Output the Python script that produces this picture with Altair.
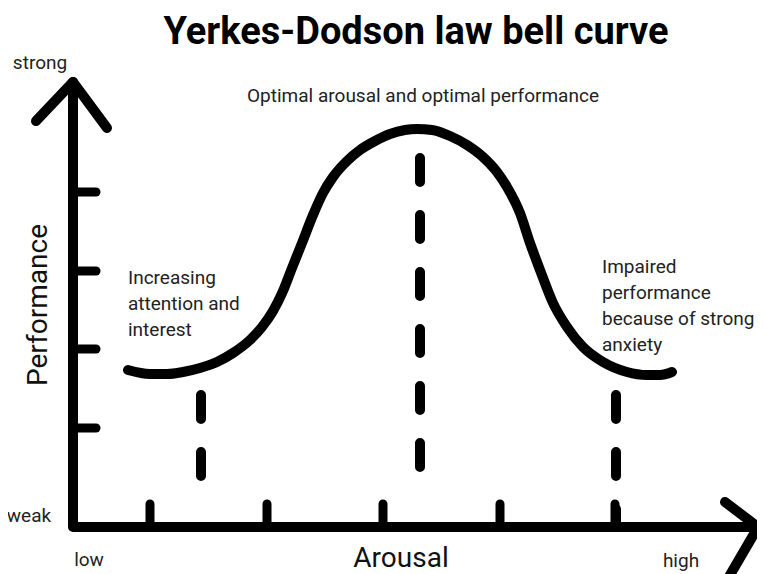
import altair as alt
import pandas as pd

# ---- data (arousal / performance units, origin at the axes corner) ----
curve_arousal = [55, 77, 94, 110, 127, 144, 160, 177, 189, 200, 210, 219, 229, 240, 250, 260,
                 274, 287, 302, 317, 332, 344, 359, 377, 394, 410, 424, 434, 447, 457, 467,
                 480, 494, 510, 530, 554, 574, 587, 599]
curve_performance = [157, 153, 153, 155, 159, 165, 174, 187, 200, 216, 236, 259, 284, 312, 334, 350,
                     366, 377, 386, 393, 397, 398, 397, 391, 382, 370, 355, 340, 314, 284, 257,
                     224, 200, 180, 165, 155, 152, 152, 155]

x_ticks = [77, 194, 310, 427, 542]
y_ticks = [99, 178, 256, 335]

dash_arousal = [128, 347, 543]
dash_top = [132, 369, 132]
dash_bottom = [51, 60, 0]

axis_arousal = [0, 0, 685]
axis_performance = [445, 0, 0]
y_arrow_arousal = [-37, 0, 34]
y_arrow_performance = [406, 445, 399]
x_arrow_arousal = [652, 685, 650]
x_arrow_performance = [25, 0, -60]

title_text = "Yerkes-Dodson law bell curve"
peak_text = "Optimal arousal and optimal performance"
left_lines = ["Increasing", "attention and", "interest"]
right_lines = ["Impaired", "performance", "because of strong", "anxiety"]

# ---- scales ----
XS = alt.Scale(domain=[-65, 684], nice=False, zero=False)
YS = alt.Scale(domain=[-47, 519], nice=False, zero=False)
FONT = "Roboto"


def X(f="a"):
    return alt.X(f"{f}:Q", scale=XS, axis=None)


def Y(f="p"):
    return alt.Y(f"{f}:Q", scale=YS, axis=None)


curve_df = pd.DataFrame({"a": curve_arousal, "p": curve_performance})
curve_df["o"] = range(len(curve_df))
curve = alt.Chart(curve_df).mark_line(
    color="black", strokeWidth=10, strokeCap="round", interpolate="monotone"
).encode(x=X(), y=Y(), order="o:Q")

dash_df = pd.DataFrame({"a": dash_arousal, "top": dash_top, "bottom": dash_bottom})
dashes = alt.Chart(dash_df).mark_rule(
    color="black", strokeWidth=10, strokeCap="round", strokeDash=[24, 33]
).encode(x=X(), y=Y("top"), y2="bottom:Q")

xt_df = pd.DataFrame({"a": x_ticks, "p0": [0] * len(x_ticks), "p1": [23] * len(x_ticks)})
xt = alt.Chart(xt_df).mark_rule(color="black", strokeWidth=9, strokeCap="round").encode(
    x=X(), y=Y("p0"), y2="p1:Q")

yt_df = pd.DataFrame({"p": y_ticks, "a0": [0] * len(y_ticks), "a1": [23] * len(y_ticks)})
yt = alt.Chart(yt_df).mark_rule(color="black", strokeWidth=9, strokeCap="round").encode(
    y=Y(), x=X("a0"), x2="a1:Q")

rows = []
for g, (xa, pa) in enumerate([(axis_arousal, axis_performance),
                              (y_arrow_arousal, y_arrow_performance),
                              (x_arrow_arousal, x_arrow_performance)]):
    for i, (aa, pp) in enumerate(zip(xa, pa)):
        rows.append({"a": aa, "p": pp, "g": g, "o": i})
axes_df = pd.DataFrame(rows)
axes = alt.Chart(axes_df).mark_line(
    color="black", strokeWidth=10, strokeCap="round", strokeJoin="round"
).encode(x=X(), y=Y(), detail="g:N", order="o:Q")

title = alt.Chart(pd.DataFrame({"a": [343], "p": [483], "t": [title_text]})).mark_text(
    font=FONT, fontSize=38, fontWeight="bold", align="center", baseline="alphabetic", color="black"
).encode(x=X(), y=Y(), text="t:N")

small_df = pd.DataFrame({
    "a": [350, -33, -44, 16, 608],
    "p": [425, 458, 5, -39, -40],
    "t": [peak_text, "strong", "weak", "low", "high"],
})
small = alt.Chart(small_df).mark_text(
    font=FONT, fontSize=19, align="center", baseline="alphabetic", color="#222222"
).encode(x=X(), y=Y(), text="t:N")

ann_rows = []
for i, s in enumerate(left_lines):
    ann_rows.append({"a": 55, "p": 243 - 26 * i, "t": s})
for i, s in enumerate(right_lines):
    ann_rows.append({"a": 529, "p": 254 - 26 * i, "t": s})
ann = alt.Chart(pd.DataFrame(ann_rows)).mark_text(
    font=FONT, fontSize=19, align="left", baseline="alphabetic", color="#222222"
).encode(x=X(), y=Y(), text="t:N")

arousal_lbl = alt.Chart(pd.DataFrame({"a": [328], "p": [-40], "t": ["Arousal"]})).mark_text(
    font=FONT, fontSize=28, align="center", baseline="alphabetic", color="#111111"
).encode(x=X(), y=Y(), text="t:N")

perf_lbl = alt.Chart(pd.DataFrame({"a": [-34], "p": [222], "t": ["Performance"]})).mark_text(
    font=FONT, fontSize=28, align="center", baseline="middle", angle=270, color="#111111"
).encode(x=X(), y=Y(), text="t:N")

chart = alt.layer(curve, dashes, xt, yt, axes, title, small, ann, arousal_lbl, perf_lbl).properties(
    width=749, height=566, padding=0,
    autosize=alt.AutoSizeParams(type="none"),
    background="white",
).configure_view(stroke=None)

chart.save("out.html", embed_options={"renderer": "svg", "actions": False})
